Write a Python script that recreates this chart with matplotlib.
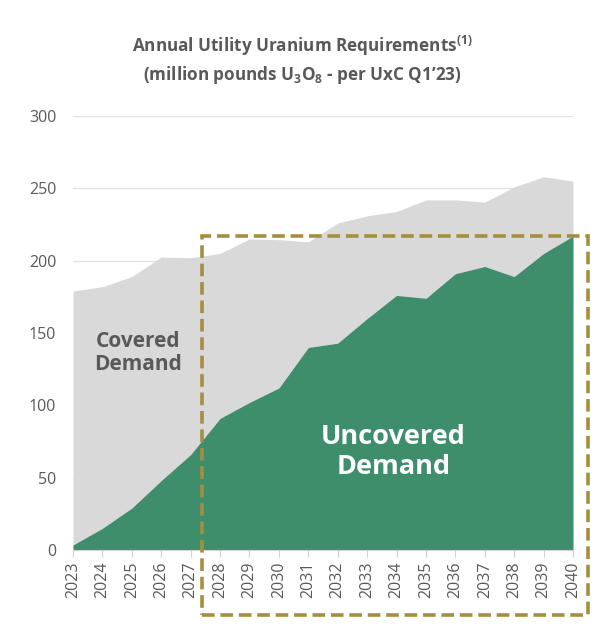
import matplotlib.pyplot as plt
from matplotlib.patches import Rectangle

plt.rcParams['font.family'] = ['Open Sans', 'DejaVu Sans']
plt.rcParams['mathtext.fontset'] = 'custom'
plt.rcParams['mathtext.rm'] = 'Open Sans'
plt.rcParams['mathtext.bf'] = 'Open Sans:bold'

years = list(range(2023, 2041))
total_req = [179, 182, 189, 202.5, 202, 205, 215, 214.5, 213, 226,
             231, 234, 242, 242, 240.5, 251, 258, 255]
uncovered = [3.5, 15, 29, 48, 66, 91, 102, 112, 140, 143,
             160, 176, 174, 191, 196, 189, 205, 217]
yticks = [0, 50, 100, 150, 200, 250, 300]

green = '#3F8E6B'
grey = '#D9D9D9'
txt = '#595959'
gold = '#A58E3F'

fig = plt.figure(figsize=(5.99, 6.43), dpi=100)
ax = fig.add_axes([73/599, 1-550/643, 500/599, 434/643])

ax.fill_between(years, uncovered, total_req, color=grey, lw=0)
ax.fill_between(years, 0, uncovered, color=green, lw=0)

ax.set_xlim(years[0], years[-1])
ax.set_ylim(0, 300)
ax.set_yticks(yticks)
ax.set_xticks(years)
ax.set_xticklabels([str(y) for y in years], rotation=90)
ax.grid(axis='y', color='#E3E3E3', lw=1)
ax.set_axisbelow(True)
for s in ['top', 'right', 'left']:
    ax.spines[s].set_visible(False)
ax.spines['bottom'].set_color('#D0D0D0')
ax.tick_params(axis='y', length=0, labelsize=11.5, labelcolor=txt, pad=12)
ax.tick_params(axis='x', length=5, color='#D0D0D0', labelsize=11.5,
               labelcolor=txt, pad=3)

ax.text(2025.2, 136, 'Covered\nDemand', ha='center', va='center',
        fontsize=15, fontweight='bold', color=txt, linespacing=1.1)
ax.text(2033.9, 68, 'Uncovered\nDemand', ha='center', va='center',
        fontsize=19.5, fontweight='bold', color='white', linespacing=1.2)

fig.text(0.505, 1-46/643, r'Annual Utility Uranium Requirements$^{\mathbf{(1)}}$',
         ha='center', va='center', fontsize=12.3, fontweight='bold', color=txt)
fig.text(0.505, 1-75/643, r'(million pounds U$_\mathbf{3}$O$_\mathbf{8}$ - per UxC Q1’23)',
         ha='center', va='center', fontsize=12.3, fontweight='bold', color=txt)

box = Rectangle((202/599, 1-615/643), 386/599, 379/643, transform=fig.transFigure,
                fill=False, edgecolor=gold, lw=2.6, linestyle=(0, (3.5, 1.6)),
                clip_on=False, zorder=5)
fig.patches.append(box)

fig.savefig('out.png', dpi=100)
